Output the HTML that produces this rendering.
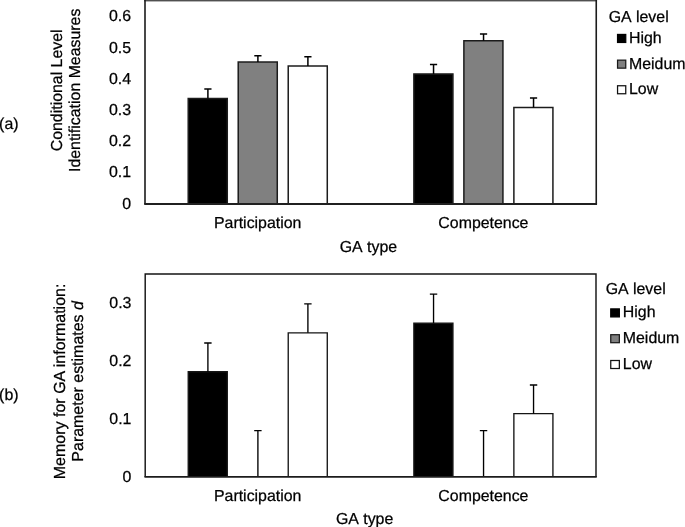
<!DOCTYPE html>
<html>
<head>
<meta charset="utf-8">
<title>Chart</title>
<style>
html,body{margin:0;padding:0;background:#fff;}
body{width:685px;height:527px;overflow:hidden;}
svg{display:block;filter:grayscale(1);will-change:transform;}
text{font-family:"Liberation Sans",sans-serif;font-size:15.9px;fill:#000;text-rendering:geometricPrecision;stroke:#000;stroke-width:0.25px;}
</style>
</head>
<body>
<svg width="685" height="527" viewBox="0 0 685 527">
<rect x="0" y="0" width="685" height="527" fill="#fff"/>

<g id="a">
<rect x="188.22" y="98.60" width="39.05" height="105.35" fill="#000"/><path d="M188.22 203.95V98.60H227.27V203.95" fill="none" stroke="#1c1c1c" stroke-width="1.5" stroke-linejoin="miter"/>
<rect x="238.22" y="62.00" width="39.05" height="141.95" fill="#808080"/><path d="M238.22 203.95V62.00H277.27V203.95" fill="none" stroke="#1c1c1c" stroke-width="1.5" stroke-linejoin="miter"/>
<rect x="288.23" y="66.00" width="39.05" height="137.95" fill="#fff"/><path d="M288.23 203.95V66.00H327.28V203.95" fill="none" stroke="#1c1c1c" stroke-width="1.5" stroke-linejoin="miter"/>
<rect x="413.88" y="73.90" width="39.05" height="130.05" fill="#000"/><path d="M413.88 203.95V73.90H452.93V203.95" fill="none" stroke="#1c1c1c" stroke-width="1.5" stroke-linejoin="miter"/>
<rect x="463.88" y="40.65" width="39.05" height="163.30" fill="#808080"/><path d="M463.88 203.95V40.65H502.93V203.95" fill="none" stroke="#1c1c1c" stroke-width="1.5" stroke-linejoin="miter"/>
<rect x="513.88" y="107.60" width="39.05" height="96.35" fill="#fff"/><path d="M513.88 203.95V107.60H552.92V203.95" fill="none" stroke="#1c1c1c" stroke-width="1.5" stroke-linejoin="miter"/>
<path d="M207.90 98.60V89.00M204.30 89.00h7.20" fill="none" stroke="#000" stroke-width="1.5"/>
<path d="M257.90 62.00V55.85M254.30 55.85h7.20" fill="none" stroke="#000" stroke-width="1.5"/>
<path d="M307.90 66.00V56.65M304.30 56.65h7.20" fill="none" stroke="#000" stroke-width="1.5"/>
<path d="M433.55 73.90V64.40M429.95 64.40h7.20" fill="none" stroke="#000" stroke-width="1.5"/>
<path d="M483.55 40.65V34.00M479.95 34.00h7.20" fill="none" stroke="#000" stroke-width="1.5"/>
<path d="M533.55 107.60V98.05M529.95 98.05h7.20" fill="none" stroke="#000" stroke-width="1.5"/>
<rect x="144.2" y="0" width="452.85" height="1" fill="#505050"/>
<rect x="144.2" y="1" width="452.85" height="1" fill="#b4b4b4"/>
<path d="M145 0V203.95M596.25 0V203.95" fill="none" stroke="#1c1c1c" stroke-width="1.6"/>
<path d="M144.2 203.95H597.05" fill="none" stroke="#202020" stroke-width="1.85"/>
<g text-anchor="end">
<text x="131" y="21.35">0.6</text>
<text x="131" y="52.58">0.5</text>
<text x="131" y="83.80">0.4</text>
<text x="131" y="115.03">0.3</text>
<text x="131" y="146.25">0.2</text>
<text x="131" y="177.47">0.1</text>
<text x="131" y="208.70">0</text>
</g>
<text x="257.7" y="227.85" text-anchor="middle">Participation</text>
<text x="483.4" y="227.85" text-anchor="middle">Competence</text>
<text x="368.4" y="252.4" text-anchor="middle" style="word-spacing:0.8px">GA type</text>
<text transform="translate(62.25,90.35) rotate(-90)" text-anchor="middle">Conditional Level</text>
<text transform="translate(80.45,90.3) rotate(-90)" text-anchor="middle">Identification Measures</text>
<text x="-0.9" y="129.25">(a)</text>
<text x="608.7" y="21.8" style="word-spacing:0.8px">GA level</text>
<rect x="617.55" y="34.45" width="8.20" height="8" fill="#000" stroke="#000" stroke-width="1.25"/>
<text x="629" y="43.20">High</text>
<rect x="617.55" y="60.15" width="8.20" height="8" fill="#808080" stroke="#1a1a1a" stroke-width="1.25"/>
<text x="629" y="68.50">Meidum</text>
<rect x="617.55" y="85.75" width="8.20" height="8" fill="#fff" stroke="#111" stroke-width="1.25"/>
<text x="629" y="94.40">Low</text>
</g>
<g id="b">
<rect x="188.23" y="371.75" width="39.05" height="105.15" fill="#000"/><path d="M188.23 476.90V371.75H227.28V476.90" fill="none" stroke="#151515" stroke-width="1.35" stroke-linejoin="miter"/>
<rect x="288.23" y="332.80" width="39.05" height="144.10" fill="#fff"/><path d="M288.23 476.90V332.80H327.28V476.90" fill="none" stroke="#151515" stroke-width="1.35" stroke-linejoin="miter"/>
<rect x="413.88" y="323.15" width="39.05" height="153.75" fill="#000"/><path d="M413.88 476.90V323.15H452.93V476.90" fill="none" stroke="#151515" stroke-width="1.35" stroke-linejoin="miter"/>
<rect x="513.87" y="413.65" width="39.05" height="63.25" fill="#fff"/><path d="M513.87 476.90V413.65H552.92V476.90" fill="none" stroke="#151515" stroke-width="1.35" stroke-linejoin="miter"/>
<path d="M207.90 371.75V343.00M204.20 343.00h7.40" fill="none" stroke="#000" stroke-width="1.35"/>
<path d="M257.90 476.90V430.55M254.20 430.55h7.40" fill="none" stroke="#000" stroke-width="1.35"/>
<path d="M307.90 332.80V303.90M304.20 303.90h7.40" fill="none" stroke="#000" stroke-width="1.35"/>
<path d="M433.55 323.15V294.10M429.85 294.10h7.40" fill="none" stroke="#000" stroke-width="1.35"/>
<path d="M483.55 476.90V430.60M479.85 430.60h7.40" fill="none" stroke="#000" stroke-width="1.35"/>
<path d="M533.55 413.65V385.00M529.85 385.00h7.40" fill="none" stroke="#000" stroke-width="1.35"/>
<path d="M145.2 476.90V273.9H596V476.90" fill="none" stroke="#151515" stroke-width="1.45"/>
<path d="M144.47 476.90H596.73" fill="none" stroke="#1c1c1c" stroke-width="1.7"/>
<g text-anchor="end">
<text x="131.4" y="308.05">0.3</text>
<text x="131.4" y="365.95">0.2</text>
<text x="131.4" y="423.80">0.1</text>
<text x="131.4" y="482.40">0</text>
</g>
<text x="257.7" y="500.8" text-anchor="middle">Participation</text>
<text x="483.4" y="500.8" text-anchor="middle">Competence</text>
<text x="364.6" y="524.1" text-anchor="middle" style="word-spacing:0.8px">GA type</text>
<text transform="translate(65.1,381.4) rotate(-90)" text-anchor="middle" style="font-size:16px">Memory for GA information:</text>
<text transform="translate(83.35,381.4) rotate(-90)" text-anchor="middle" style="font-size:15.96px">Parameter estimates <tspan font-style="italic">d</tspan></text>
<text x="-0.9" y="399.85">(b)</text>
<text x="605.7" y="294.25" style="word-spacing:0.8px">GA level</text>
<rect x="610.75" y="308.90" width="8.60" height="8" fill="#000" stroke="#000" stroke-width="1.25"/>
<text x="622.8" y="317.40">High</text>
<rect x="610.75" y="334.70" width="8.60" height="8" fill="#808080" stroke="#1a1a1a" stroke-width="1.25"/>
<text x="622.8" y="343.40">Meidum</text>
<rect x="610.75" y="360.50" width="8.60" height="8" fill="#fff" stroke="#111" stroke-width="1.25"/>
<text x="622.8" y="369.30">Low</text>
</g>
</svg>
</body>
</html>
